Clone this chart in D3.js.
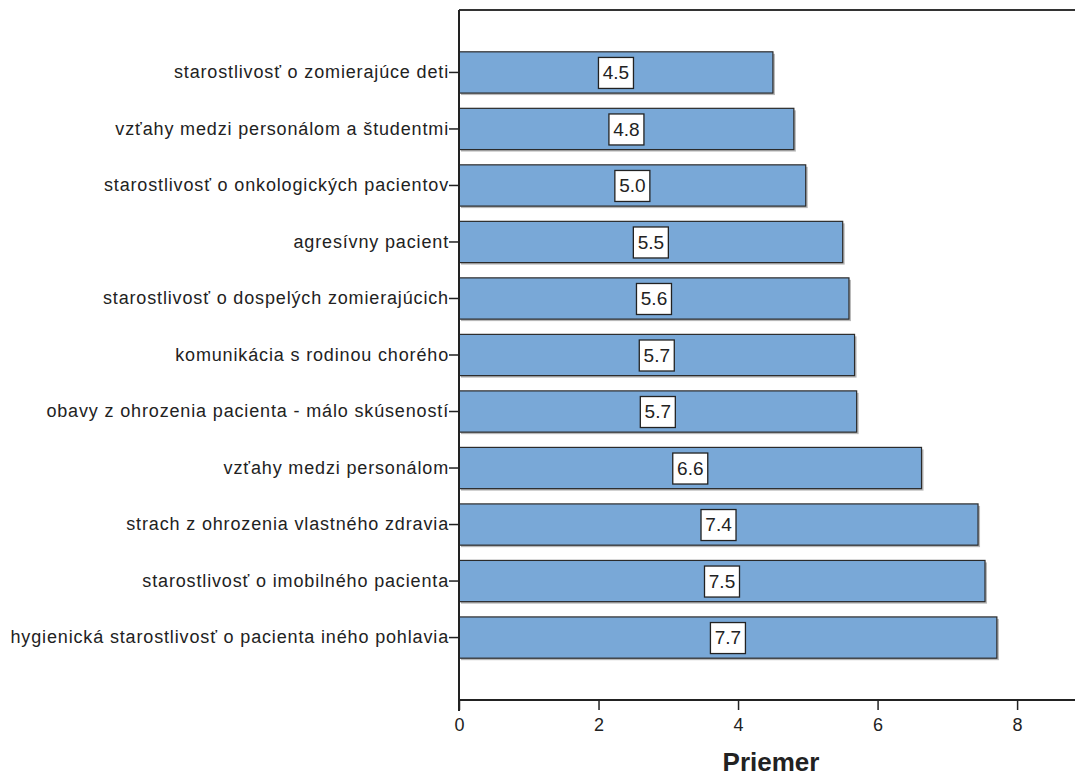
<!DOCTYPE html>
<html>
<head>
<meta charset="utf-8">
<script src="https://cdn.jsdelivr.net/npm/d3@7"></script>
<style>
  html, body { margin: 0; padding: 0; background: #fff; }
  svg { display: block; }
  text { font-family: "Liberation Sans", Arial, sans-serif; fill: #222; }
</style>
</head>
<body>
<svg id="chart" width="1075" height="778"></svg>
<script>
// Mean score per stress source
const categories = [
  "starostlivosť o zomierajúce deti",
  "vzťahy medzi personálom a študentmi",
  "starostlivosť o onkologických pacientov",
  "agresívny pacient",
  "starostlivosť o dospelých zomierajúcich",
  "komunikácia s rodinou chorého",
  "obavy z ohrozenia pacienta - málo skúseností",
  "vzťahy medzi personálom",
  "strach z ohrozenia vlastného zdravia",
  "starostlivosť o imobilného pacienta",
  "hygienická starostlivosť o pacienta iného pohlavia"
];
const means = [4.50, 4.80, 4.97, 5.50, 5.59, 5.67, 5.70, 6.63, 7.44, 7.54, 7.71];
const xTicks = [0, 2, 4, 6, 8];
const xTitle = "Priemer";

const svg = d3.select("#chart");
const plotL = 459, plotR = 1075, plotT = 10, plotB = 700;

const x = d3.scaleLinear().domain([0, 8.83]).range([plotL, plotR]);
const y = d3.scaleBand().domain(categories).range([plotT, plotB])
  .paddingInner(0.27).paddingOuter(0.74);

const data = categories.map((c, i) => ({ cat: c, v: means[i] }));

// frame: top border
svg.append("line")
  .attr("x1", plotL).attr("x2", plotR).attr("y1", plotT).attr("y2", plotT)
  .attr("stroke", "#333").attr("stroke-width", 2);

// bar shadows
svg.append("g").selectAll("rect").data(data).join("rect")
  .attr("x", x(0) + 2).attr("y", d => y(d.cat) + 2)
  .attr("width", d => x(d.v) - x(0)).attr("height", y.bandwidth())
  .attr("fill", "#9a9a9a").attr("opacity", 0.7);

// bars
svg.append("g").selectAll("rect").data(data).join("rect")
  .attr("x", x(0)).attr("y", d => y(d.cat))
  .attr("width", d => x(d.v) - x(0)).attr("height", y.bandwidth())
  .attr("fill", "#79a8d7").attr("stroke", "#2b2b2b").attr("stroke-width", 1.2);

// value labels centred on each bar
const lab = svg.append("g").selectAll("g").data(data).join("g")
  .attr("transform", d => `translate(${x(d.v / 2)},${y(d.cat) + y.bandwidth() / 2})`);
lab.append("rect")
  .attr("x", -17.5).attr("y", -15).attr("width", 35).attr("height", 31)
  .attr("fill", "#fff").attr("stroke", "#222").attr("stroke-width", 1.3);
lab.append("text")
  .attr("text-anchor", "middle").attr("dy", "0.36em")
  .style("font-size", "19px")
  .text(d => d.v.toFixed(1));

// y axis
const yAxis = svg.append("g").attr("transform", `translate(${plotL},0)`)
  .call(d3.axisLeft(y).tickSize(10).tickPadding(0));
yAxis.select(".domain").remove();
yAxis.append("line").attr("x1", 0).attr("x2", 0).attr("y1", plotT).attr("y2", plotB + 11)
  .attr("stroke", "#222").attr("stroke-width", 2);
yAxis.selectAll(".tick line").attr("stroke", "#222").attr("stroke-width", 1.5);
yAxis.selectAll(".tick text")
  .style("font-family", "'Liberation Sans', Arial, sans-serif")
  .style("font-size", "18px").style("letter-spacing", "0.85px").attr("fill", "#222");

// x axis
const xAxis = svg.append("g").attr("transform", `translate(0,${plotB})`)
  .call(d3.axisBottom(x).tickValues(xTicks).tickSize(10).tickPadding(8).tickFormat(d3.format("d")));
xAxis.select(".domain").remove();
xAxis.append("line").attr("x1", plotL).attr("x2", plotR).attr("y1", 0).attr("y2", 0)
  .attr("stroke", "#222").attr("stroke-width", 2);
xAxis.selectAll(".tick line").attr("stroke", "#222").attr("stroke-width", 1.5);
xAxis.selectAll(".tick text")
  .style("font-family", "'Liberation Sans', Arial, sans-serif")
  .style("font-size", "18px").attr("fill", "#222");

// axis title
svg.append("text")
  .attr("x", 771).attr("y", 771)
  .attr("text-anchor", "middle")
  .style("font-size", "26px").style("font-weight", "bold")
  .text(xTitle);
</script>
</body>
</html>
